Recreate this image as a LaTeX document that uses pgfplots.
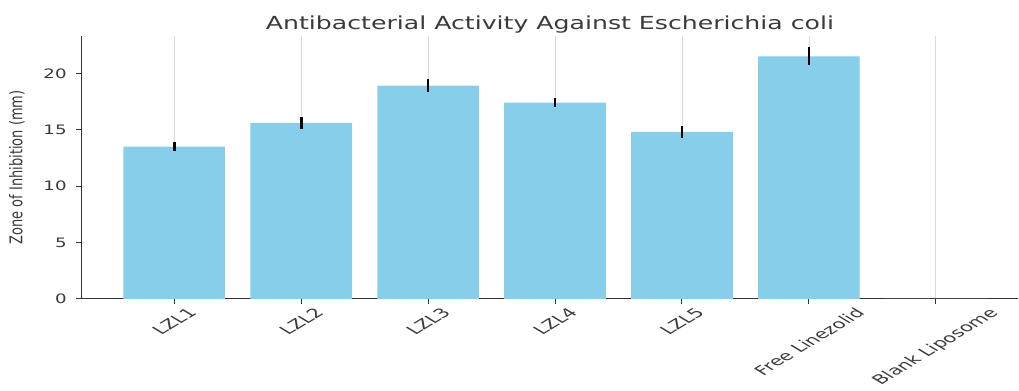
\documentclass[border=0pt]{standalone}
\usepackage{graphicx}
\usepackage{pgfplots}
\pgfplotsset{compat=1.18}
\usepackage{fontspec}
\setmainfont{DejaVu Sans}
\definecolor{barblue}{HTML}{87CEEB}
\definecolor{txt}{HTML}{3A3A3A}
\newcommand{\rl}[1]{\rotatebox{45}{#1}}
\begin{document}
\begin{tikzpicture}
\begin{axis}[
  scale only axis,
  width=469pt, height=131.5pt,
  xmin=-0.73, xmax=6.65,
  ymin=0, ymax=23.3,
  axis x line*=bottom, axis y line*=left,
  axis line style={black!80, line width=0.6pt},
  xtick={0,1,2,3,4,5,6},
  xticklabels={\rl{LZL1},\rl{LZL2},\rl{LZL3},\rl{LZL4},\rl{LZL5},\rl{Free Linezolid},\rl{Blank Liposome}},
  xticklabel style={anchor=north, font=\fontsize{6.4}{7}\selectfont, text=txt, inner sep=1.5pt, xscale=1.65},
  ytick={0,5,10,15,20},
  yticklabel style={font=\fontsize{6.5}{7}\selectfont, text=txt, xscale=1.4},
  /pgf/number format/assume math mode=true,
  tick style={black!80, line width=0.5pt},
  tick align=outside, major tick length=2.5pt,
  xmajorgrids, grid style={black!15, line width=0.4pt},
  ylabel={Zone of Inhibition (mm)},
  ylabel style={font=\fontsize{6.5}{7}\selectfont, text=txt, yscale=1.35},
  title={Antibacterial Activity Against Escherichia coli},
  title style={font=\fontsize{9}{10}\selectfont, text=txt, xscale=1.4, yshift=-8pt},
]
\addplot[ybar, bar width=0.8, fill=barblue, draw=none,
  error bars/.cd, y dir=both, y explicit,
  error bar style={line width=1.4pt, black}, error mark=none]
coordinates {
  (0,13.5) +- (0,0.4)
  (1,15.6) +- (0,0.5)
  (2,18.9) +- (0,0.6)
  (3,17.4) +- (0,0.4)
  (4,14.8) +- (0,0.5)
  (5,21.5) +- (0,0.8)
  (6,0) +- (0,0)
};
\end{axis}
\path (current bounding box.north) ++(0,4.5pt);
\end{tikzpicture}
\end{document}
